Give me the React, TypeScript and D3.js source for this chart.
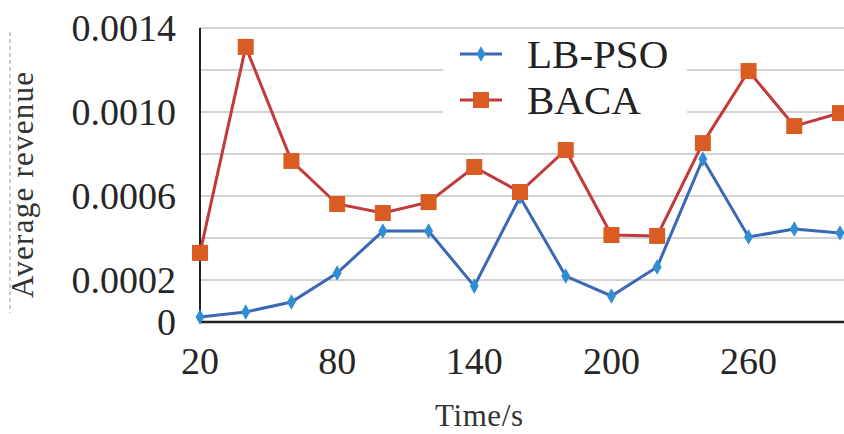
import React from 'react';
import * as d3 from 'd3';

const times = [20, 40, 60, 80, 100, 120, 140, 160, 180, 200, 220, 240, 260, 280, 300];
const lbPso = [0.000024, 0.000048, 0.000095, 0.000233, 0.000433, 0.000433, 0.000171, 0.000595,
  0.000219, 0.000124, 0.000262, 0.000776, 0.000405, 0.000443, 0.000424];
const baca = [0.000329, 0.00131, 0.000767, 0.000562, 0.000519, 0.000571, 0.000738, 0.000619,
  0.000819, 0.000414, 0.00041, 0.000852, 0.001195, 0.000933, 0.000995];
const xTicks = [20, 80, 140, 200, 260];
const yTicks = [0, 0.0002, 0.0006, 0.0010, 0.0014];
const gridValues = [0.0002, 0.0004, 0.0006, 0.0008, 0.0010, 0.0012, 0.0014];
const seriesNames = ['LB-PSO', 'BACA'];

const W = 844;
const H = 434;
const left = 200;
const right = 840;
const top = 28;
const bottom = 322;

const x = d3.scaleLinear().domain([20, 300]).range([left, right]);
const y = d3.scaleLinear().domain([0, 0.0014]).range([bottom, top]);

const line = d3.line<number>()
  .x((d, i) => x(times[i]))
  .y((d) => y(d));

const diamond = d3.symbol().type(d3.symbolDiamond).size(70);

const blueLine = '#3b68b4';
const blueMark = '#2f8fd2';
const redLine = '#c23a3c';
const redMark = '#d95d22';

const serif = { fontFamily: "'Liberation Serif', 'DejaVu Serif', serif" };

export default function App() {
  const fmt = (v: number) => (v === 0 ? '0' : v.toFixed(4));

  return (
    <svg width={W} height={H} style={{ position: 'absolute', left: 0, top: 0 }}>
      <rect width={W} height={H} fill="#fff" />

      {/* faint scan artefact on the left */}
      <line x1={10} x2={10} y1={32} y2={313} stroke="#9a9a9a" strokeWidth={1} strokeDasharray="4,3" />

      {/* grid */}
      {gridValues.map((v) => (
        <line key={v} x1={left} x2={W} y1={y(v)} y2={y(v)} stroke="#c4c4c4" strokeWidth={1.6} />
      ))}

      {/* axes */}
      <line x1={left} x2={left} y1={top} y2={bottom} stroke="#222" strokeWidth={2} />
      <line x1={left} x2={W} y1={bottom} y2={bottom} stroke="#222" strokeWidth={2.6} />

      {/* y tick labels */}
      {yTicks.map((v) => (
        <text key={v} x={176} y={y(v)} dy="0.35em" textAnchor="end"
          style={serif} fontSize={38} fill="#262626">
          {fmt(v)}
        </text>
      ))}

      {/* x tick labels */}
      {xTicks.map((v) => (
        <text key={v} x={x(v)} y={374} textAnchor="middle"
          style={serif} fontSize={38} fill="#262626">
          {v}
        </text>
      ))}

      {/* axis titles */}
      <text x={435} y={426} textLength={88} lengthAdjust="spacing"
        style={serif} fontSize={31} fill="#333">
        Time/s
      </text>
      <text transform="translate(33,298) rotate(-90)" textLength={226} lengthAdjust="spacing"
        style={serif} fontSize={31} fill="#333">
        Average revenue
      </text>

      {/* series */}
      <path d={line(lbPso) || ''} fill="none" stroke={blueLine} strokeWidth={3} />
      <path d={line(baca) || ''} fill="none" stroke={redLine} strokeWidth={3} />
      {lbPso.map((v, i) => (
        <path key={'b' + i} d={diamond() || ''} transform={`translate(${x(times[i])},${y(v)})`} fill={blueMark} />
      ))}
      {baca.map((v, i) => (
        <rect key={'r' + i} x={x(times[i]) - 8} y={y(v) - 8} width={16} height={16} fill={redMark} />
      ))}

      {/* legend */}
      <g>
        <rect x={443} y={36} width={244} height={90} fill="#fff" />
        <line x1={460} x2={502} y1={54} y2={54} stroke={blueLine} strokeWidth={3} />
        <path d={diamond() || ''} transform="translate(481,54)" fill={blueMark} />
        <text x={527} y={68} style={serif} fontSize={41} fill="#222">{seriesNames[0]}</text>
        <line x1={460} x2={502} y1={100} y2={100} stroke={redLine} strokeWidth={3} />
        <rect x={473} y={92} width={16} height={16} fill={redMark} />
        <text x={527} y={114} style={serif} fontSize={41} fill="#222">{seriesNames[1]}</text>
      </g>
    </svg>
  );
}
